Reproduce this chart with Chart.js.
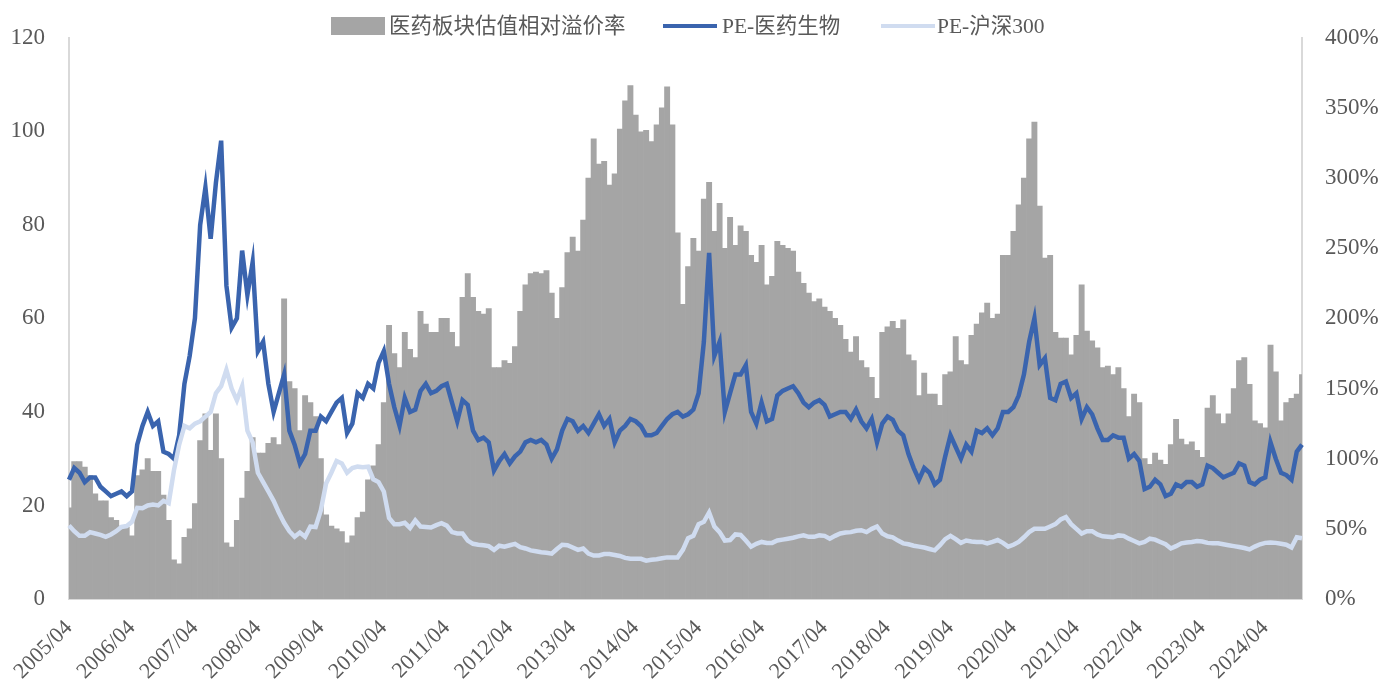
<!DOCTYPE html>
<html>
<head>
<meta charset="utf-8">
<script src="https://cdn.jsdelivr.net/npm/chart.js@4.4.0/dist/chart.umd.min.js"></script>
<style>
  body { margin: 0; background: #fff; }
  #wrap { position: relative; width: 1381px; height: 693px; }
  #legend { position: absolute; left: 0; top: 0; width: 1381px; height: 40px;
            font-family: 'Liberation Serif', 'Noto Sans CJK SC', serif; font-size: 21.5px; color: #595959; }
  .txt { position: absolute; top: 11px; line-height: 30px; white-space: nowrap; }
  .sw { position: absolute; }
</style>
</head>
<body>
<div id="wrap">
  <canvas id="c" width="1381" height="693"></canvas>
  <div id="legend">
    <div class="sw" style="left:331px;top:17px;width:54px;height:18px;background:#A5A5A5"></div>
    <span class="txt" style="left:389px">医药板块估值相对溢价率</span>
    <div class="sw" style="left:663px;top:24px;width:54px;height:4px;background:#3A64AE"></div>
    <span class="txt" style="left:722px">PE-医药生物</span>
    <div class="sw" style="left:881px;top:24px;width:54px;height:4px;background:#D0DCF0"></div>
    <span class="txt" style="left:937px">PE-沪深300</span>
  </div>
</div>
<script>
// ===== categories: monthly, 2005/04 .. 2024/11 =====
const months = [];
for (let y = 2005, m = 4; months.length < 236; ) {
  months.push(y + '/' + String(m).padStart(2, '0'));
  m++;
  if (m > 12) { m = 1; y++; }
}

// ===== 医药板块估值相对溢价率 (%), right axis =====
const premium = [
  65, 98, 98, 94, 88, 75, 70, 70, 58, 56, 52, 51,
  45, 88, 92, 100, 91, 91, 74, 56, 28, 25, 44, 50,
  68, 113, 132, 106, 132, 100, 40, 37, 56, 72, 91, 115,
  104, 104, 111, 115, 110, 214, 155, 150, 120, 145, 140, 130,
  100, 60, 52, 50, 48, 40, 45, 58, 62, 85, 95, 110,
  140, 195, 175, 165, 190, 178, 172, 205, 196, 190, 190, 200,
  200, 190, 180, 215, 232, 215, 205, 203, 207, 165, 165, 170,
  168, 180, 205, 224, 232, 233, 232, 234, 218, 200, 222, 247,
  258, 248, 270, 300, 328, 310, 312, 295, 303, 335, 355, 366,
  345, 333, 334, 326, 338, 350, 365, 338, 261, 210, 237, 257,
  248, 285, 297, 262, 282, 250, 272, 252, 266, 262, 245, 240,
  252, 224, 230, 255, 252, 250, 248, 233, 225, 218, 212, 214,
  208, 205, 200, 195, 185, 176, 187, 170, 165, 158, 143, 190,
  194, 198, 193, 199, 174, 170, 145, 161, 146, 146, 138, 160,
  162, 187, 170, 167, 188, 196, 204, 211, 200, 203, 245, 245,
  262, 281, 300, 328, 340, 280, 243, 245, 190, 186, 186, 174,
  188, 224, 191, 184, 179, 165, 166, 160, 165, 150, 130, 146,
  140, 100, 96, 104, 99, 96, 110, 128, 114, 110, 112, 106,
  101, 136, 145, 132, 125, 132, 150, 170, 172, 153, 127, 125,
  122, 181, 162, 127, 140, 143, 146, 160
];

// ===== PE-医药生物, left axis =====
const peMed = [
  25.5, 28, 27, 25, 26, 26, 24, 23, 22, 22.5, 23, 22,
  23, 33, 37, 40, 37, 38, 31.5, 31, 30, 35, 46, 52,
  60, 80, 88, 77, 89, 98, 67, 58, 60, 74.5, 65, 72,
  53, 55, 46, 40, 44, 48, 36, 33, 29, 31, 36, 36,
  39, 38, 40, 42, 43, 35.5, 37.5, 44, 43, 46, 45, 50.5,
  53, 46, 41, 37, 43, 40, 40.5, 44.5, 46, 44, 44.5, 45.5,
  46, 42, 38, 42.5, 41.5, 36, 34, 34.5, 33.5, 27.5, 29.5, 31,
  29, 30.5, 31.5, 33.5, 34, 33.5, 34, 33, 30, 32, 36, 38.5,
  38, 36, 37, 35.5, 37.5, 39.5, 37, 38.5, 33.5, 36, 37, 38.5,
  38, 37, 35, 35, 35.5, 37, 38.5, 39.5, 40, 39, 39.5, 40.5,
  44, 55, 74, 52, 55, 40, 44, 48, 48, 50, 40, 37.5,
  42, 38, 38.5, 43.5, 44.5, 45, 45.5, 44, 42, 41, 42, 42.5,
  41.5, 39, 39.5, 40, 40, 38.5, 40.5, 38, 36.5, 38.5, 33.5, 37.5,
  39, 38.3, 36, 35, 31, 28, 25.5, 28, 27, 24.5, 25.5, 30.5,
  35, 32.5, 30, 33, 31.5, 36, 35.5, 36.5, 35, 36.5, 40, 40,
  41, 43.5, 48, 55, 60, 50, 51.5, 43, 42.5, 46, 46.5, 43,
  44, 38.5, 41, 39.5, 36.5, 34, 34, 35, 34.5, 34.5, 30, 31,
  29.5, 23.5, 24, 25.5, 24.5, 22, 22.5, 24.5, 24, 25, 25, 24,
  24.5, 28.5, 28, 27, 26, 26.5, 27, 29, 28.5, 25, 24.5, 25.5,
  26, 33.5, 30, 27, 26.5, 25.5, 31.5, 33
];

// ===== PE-沪深300, left axis =====
const peHs300 = [
  15.7, 14.5, 13.5, 13.5, 14.3, 14, 13.7, 13.3, 13.8, 14.5, 15.4, 15.6,
  16.5, 19.5, 19.4, 20, 20.2, 20, 21, 20.5, 27.5, 33, 37, 36.5,
  37.5, 38, 39, 40, 44, 45.5, 49, 45, 42.5, 45.5, 36, 33.5,
  27, 25, 23, 21, 18.5, 16.3, 14.5, 13.3, 14.2, 13.3, 15.5, 15.4,
  19, 24.7, 27, 29.5, 29, 27, 28, 28.3, 28.2, 28.3, 25.6, 25,
  23, 17.3, 16, 16, 16.3, 15.2, 16.8, 15.5, 15.4, 15.3, 15.8, 16.2,
  15.7, 14.3, 14, 14, 12.5, 11.8, 11.6, 11.5, 11.3, 10.5, 11.4, 11.2,
  11.5, 11.8, 11.1, 10.8, 10.4, 10.2, 10, 9.9, 9.7, 10.7, 11.6, 11.5,
  11, 10.5, 10.8, 9.7, 9.3, 9.3, 9.6, 9.6, 9.4, 9.2, 8.8, 8.6,
  8.6, 8.6, 8.2, 8.4, 8.5, 8.7, 8.9, 8.9, 8.9, 10.5, 13, 13.5,
  16, 16.5, 18.5, 15.5, 14.3, 12.5, 12.6, 13.8, 13.7, 12.5, 11.2, 11.8,
  12.2, 12, 12, 12.5, 12.7, 12.9, 13.1, 13.4, 13.6, 13.3, 13.3, 13.6,
  13.5, 12.9, 13.5, 14, 14.2, 14.3, 14.6, 14.7, 14.3, 15, 15.5, 14,
  13.4, 13.2, 12.5, 11.9, 11.7, 11.4, 11.2, 11, 10.7, 10.4, 11.5, 12.8,
  13.5, 12.8, 12, 12.5, 12.3, 12.2, 12.2, 11.9, 12.2, 12.6, 12, 11.2,
  11.6, 12.2, 13.2, 14.3, 15, 15, 15, 15.5, 16, 17, 17.5, 16,
  15, 14, 14.5, 14.5, 13.8, 13.4, 13.3, 13.2, 13.6, 13.5, 12.9, 12.4,
  11.9, 12.2, 12.9, 12.7, 12.2, 11.7, 10.8, 11.3, 11.9, 12.1, 12.2, 12.4,
  12.3, 12, 11.9, 11.9, 11.7, 11.5, 11.3, 11.1, 10.9, 10.6, 11.2, 11.7,
  12, 12.1, 12, 11.8, 11.6, 11, 13.2, 13
];

const FONT = "'Liberation Serif', 'Noto Sans CJK SC', serif";
const TEXT = '#595959';
const AXIS = '#D9D9D9';

new Chart(document.getElementById('c'), {
  type: 'bar',
  data: {
    labels: months,
    datasets: [
      {
        type: 'bar',
        label: '医药板块估值相对溢价率',
        data: premium,
        backgroundColor: '#A5A5A5',
        borderWidth: 0,
        barPercentage: 1,
        categoryPercentage: 1,
        yAxisID: 'y2',
        order: 3
      },
      {
        type: 'line',
        label: 'PE-医药生物',
        data: peMed,
        borderColor: '#3A64AE',
        borderWidth: 4.5,
        pointRadius: 0,
        tension: 0,
        yAxisID: 'y',
        order: 2
      },
      {
        type: 'line',
        label: 'PE-沪深300',
        data: peHs300,
        borderColor: '#D0DCF0',
        borderWidth: 4.5,
        pointRadius: 0,
        tension: 0,
        yAxisID: 'y',
        order: 1
      }
    ]
  },
  options: {
    responsive: false,
    animation: false,
    devicePixelRatio: 1,
    layout: { padding: { top: 35, left: 0, right: 0, bottom: 0 } },
    plugins: { legend: { display: false }, tooltip: { enabled: false } },
    scales: {
      x: {
        offset: false,
        grid: { display: false, drawTicks: false },
        border: { color: AXIS, width: 2 },
        ticks: {
          autoSkip: false, minRotation: 45, maxRotation: 45,
          color: TEXT, font: { family: FONT, size: 22 }, padding: 16
        },
        afterBuildTicks: s => { s.ticks = s.ticks.filter(t => months[t.value].endsWith('/04')); },
        afterFit: s => { s.height = 94; }
      },
      y: {
        position: 'left', min: 0, max: 120,
        grid: { display: false, drawTicks: false },
        border: { color: AXIS, width: 2 },
        ticks: { stepSize: 20, color: TEXT, font: { family: FONT, size: 23 }, padding: 24 },
        afterFit: s => { s.width = 69; }
      },
      y2: {
        position: 'right', min: 0, max: 400,
        grid: { display: false, drawTicks: false },
        border: { color: AXIS, width: 2 },
        ticks: { stepSize: 50, color: TEXT, font: { family: FONT, size: 23 }, padding: 23,
                 callback: v => v + '%' },
        afterFit: s => { s.width = 79; }
      }
    }
  }
});
</script>
</body>
</html>
